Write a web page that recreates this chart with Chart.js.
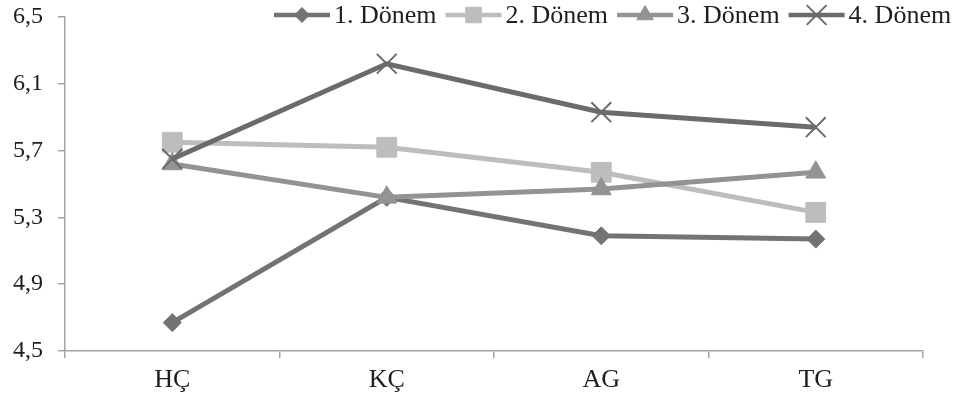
<!DOCTYPE html>
<html>
<head>
<meta charset="utf-8">
<script src="https://cdn.jsdelivr.net/npm/chart.js@4/dist/chart.umd.min.js"></script>
<style>
    html, body { margin: 0; padding: 0; background: #fff; }
    #wrap { width: 958px; height: 403px; position: relative; }
</style>
</head>
<body>
<div id="wrap"><canvas id="mainChart"></canvas></div>
<script>
// --- Data ---
const categories = ['HÇ', 'KÇ', 'AG', 'TG'];
const seriesNames = ['1. Dönem', '2. Dönem', '3. Dönem', '4. Dönem'];
const donem1 = [4.67, 5.42, 5.19, 5.17];
const donem2 = [5.75, 5.72, 5.57, 5.33];
const donem3 = [5.62, 5.42, 5.47, 5.57];
const donem4 = [5.65, 6.22, 5.93, 5.84];
const yTicks = [4.5, 4.9, 5.3, 5.7, 6.1, 6.5];

// --- Styles ---
const FONT = "'Liberation Serif', 'Times New Roman', serif";
const AXIS_COLOR = '#a3a3a3';
const TEXT_COLOR = '#1e1e1e';

const STYLES = [
    { color: '#737373', point: 'rectRot', radius: 9, border: 1, legendRadius: 7.5 },
    { color: '#bdbdbd', point: 'rect', radius: 14, border: 1, legendRadius: 11 },
    { color: '#939393', point: 'triangle', radius: 11.5, border: 1, legendRadius: 9.5 },
    { color: '#6b6b6b', point: 'crossRot', radius: 14, border: 2, legendRadius: 14 }
];

const seriesData = [donem1, donem2, donem3, donem4];

function makeDataset(i) {
    const st = STYLES[i];
    return {
        label: seriesNames[i],
        data: seriesData[i],
        borderColor: st.color,
        backgroundColor: st.color,
        borderWidth: 5,
        tension: 0,
        pointStyle: st.point,
        pointRadius: st.radius,
        pointHoverRadius: st.radius,
        pointBorderWidth: st.border,
        pointBorderColor: st.color,
        pointBackgroundColor: st.color,
        order: 4 - i // later series on top
    };
}

// --- Legend (line + marker, top right, overlapping plot top) ---
const lineLegend = {
    id: 'lineLegend',
    afterDraw(chart) {
        const ctx = chart.ctx;
        const y = 15;
        const half = 28;
        const gap = 9;
        ctx.save();
        ctx.font = '26px ' + FONT;
        ctx.textBaseline = 'middle';
        ctx.textAlign = 'left';
        let cx = 302;
        chart.data.datasets.forEach((ds, i) => {
            const st = STYLES[i];
            ctx.strokeStyle = st.color;
            ctx.fillStyle = st.color;
            ctx.lineWidth = 4.5;
            ctx.beginPath();
            ctx.moveTo(cx - half, y);
            ctx.lineTo(cx + half, y);
            ctx.stroke();
            ctx.lineWidth = st.border;
            Chart.helpers.drawPoint(ctx, {
                pointStyle: st.point,
                radius: st.legendRadius,
                rotation: 0,
                borderWidth: st.border
            }, cx, y);
            ctx.fillStyle = TEXT_COLOR;
            const tx = cx + half + 4;
            ctx.fillText(ds.label, tx, y + 1);
            const w = ctx.measureText(ds.label).width;
            cx = tx + w + gap + half;
        });
        ctx.restore();
    }
};

// --- Chart ---
const ctx = document.getElementById('mainChart').getContext('2d');
new Chart(ctx, {
    type: 'line',
    data: {
        labels: categories,
        datasets: seriesNames.map((_, i) => makeDataset(i))
    },
    options: {
        responsive: true,
        maintainAspectRatio: false,
        animation: false,
        events: [],
        layout: { padding: { top: 17, right: 35, left: 0, bottom: 0 } },
        plugins: {
            legend: { display: false },
            tooltip: { enabled: false }
        },
        scales: {
            x: {
                offset: true,
                afterFit: s => { s.height = 52; s.paddingLeft = 0; s.paddingRight = 0; },
                grid: {
                    offset: true,
                    drawOnChartArea: false,
                    tickLength: 7,
                    color: AXIS_COLOR,
                    lineWidth: 1.5
                },
                border: { color: AXIS_COLOR, width: 1.5 },
                ticks: {
                    padding: 7,
                    color: TEXT_COLOR,
                    font: { family: FONT, size: 26 },
                    maxRotation: 0
                }
            },
            y: {
                min: 4.5,
                max: 6.5,
                afterFit: s => { s.width = 65; s.paddingTop = 0; s.paddingBottom = 0; },
                afterBuildTicks: s => { s.ticks = yTicks.map(v => ({ value: v })); },
                grid: {
                    drawOnChartArea: false,
                    tickLength: 7,
                    color: AXIS_COLOR,
                    lineWidth: 1.5
                },
                border: { color: AXIS_COLOR, width: 1.5 },
                ticks: {
                    padding: 15,
                    color: TEXT_COLOR,
                    font: { family: FONT, size: 24 },
                    callback: v => Number(v).toFixed(1).replace('.', ',')
                }
            }
        }
    },
    plugins: [lineLegend]
});
</script>
</body>
</html>
